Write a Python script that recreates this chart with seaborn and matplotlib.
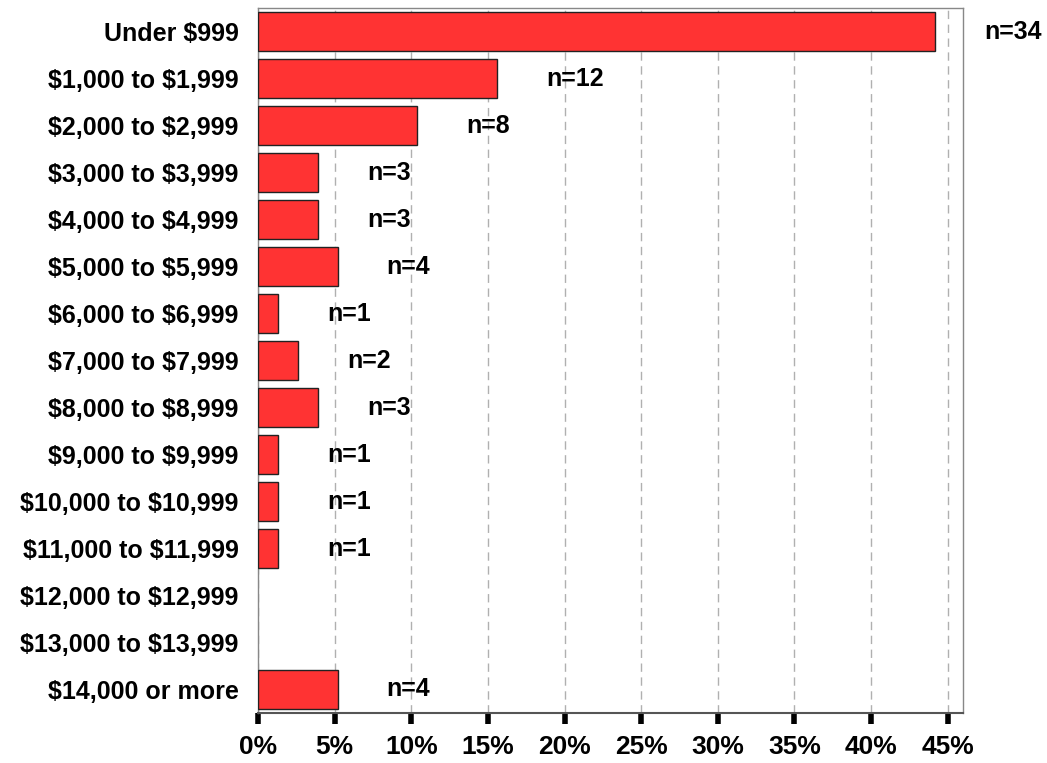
import matplotlib
matplotlib.use("Agg")
import matplotlib.pyplot as plt
import seaborn as sns
import pandas as pd

categories = ["Under $999", "$1,000 to $1,999", "$2,000 to $2,999", "$3,000 to $3,999",
              "$4,000 to $4,999", "$5,000 to $5,999", "$6,000 to $6,999", "$7,000 to $7,999",
              "$8,000 to $8,999", "$9,000 to $9,999", "$10,000 to $10,999", "$11,000 to $11,999",
              "$12,000 to $12,999", "$13,000 to $13,999", "$14,000 or more"]
percents = [44.2, 15.6, 10.4, 3.9, 3.9, 5.2, 1.3, 2.6, 3.9, 1.3, 1.3, 1.3, 0.0, 0.0, 5.2]
counts = [34, 12, 8, 3, 3, 4, 1, 2, 3, 1, 1, 1, 0, 0, 4]
xticks = [0, 5, 10, 15, 20, 25, 30, 35, 40, 45]

sns.set_theme(style="white")
plt.rcParams['font.family'] = ['Liberation Sans', 'DejaVu Sans']
plt.rcParams['font.weight'] = 'bold'
plt.rcParams['text.parse_math'] = False
plt.rcParams['text.color'] = 'black'
plt.rcParams['xtick.color'] = 'black'
plt.rcParams['ytick.color'] = 'black'

df = pd.DataFrame({"cat": categories, "pct": percents, "n": counts})

fig = plt.figure(figsize=(10.47, 7.63), dpi=100)
ax = fig.add_axes([258/1047, 1 - 713/763, (963-258)/1047, (713-8)/763])

sns.barplot(data=df, x="pct", y="cat", orient="h", color="#FF3333", saturation=1,
            edgecolor="#222222", linewidth=1, width=0.83, ax=ax, zorder=3)
for patch in ax.patches:
    if patch.get_width() == 0:
        patch.set_linewidth(0)

ax.set_xlim(0, 46)
ax.set_xticks(xticks)
ax.set_xticklabels([f"{t}%" for t in xticks], fontsize=19, fontweight="bold", color="black")
ax.set_yticks(range(len(categories)))
ax.set_yticklabels(categories, fontsize=18, fontweight="bold", color="black")
ax.set_xlabel("")
ax.set_ylabel("")
ax.xaxis.grid(True, linestyle=(0, (6, 4)), color="#b0b0b0", linewidth=1, zorder=0)
ax.set_axisbelow(True)
ax.tick_params(axis="x", direction="out", length=8, width=4, color="black", pad=8, bottom=True)
ax.tick_params(axis="y", length=0, pad=14)
for side in ["top", "right", "left"]:
    ax.spines[side].set_color("#888888")
    ax.spines[side].set_linewidth(1)
ax.spines["bottom"].set_color("#555555")
ax.spines["bottom"].set_linewidth(1.5)

for i, (p, n) in enumerate(zip(percents, counts)):
    if n > 0:
        ax.text(p + 3.2, i, f"n={n}", ha="left", va="center", fontsize=18,
                fontweight="bold", color="black", clip_on=False)

fig.savefig("out.png", dpi=100)
